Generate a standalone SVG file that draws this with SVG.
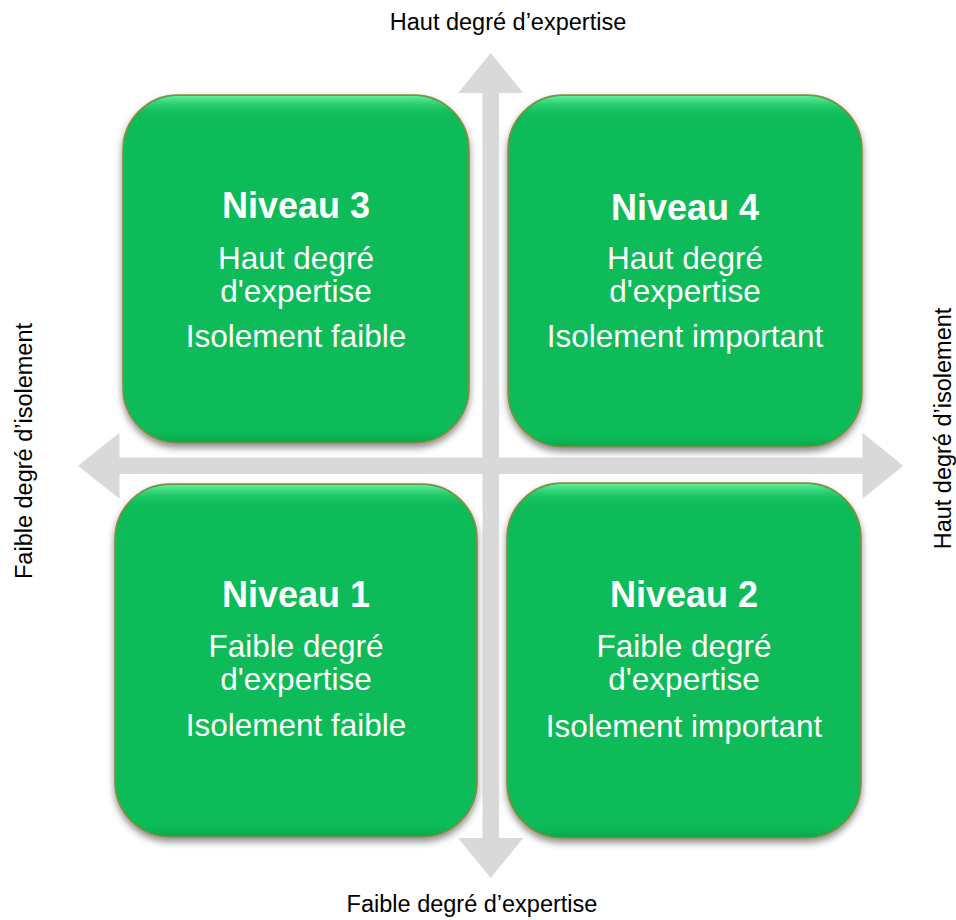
<svg xmlns="http://www.w3.org/2000/svg" width="956" height="920" viewBox="0 0 956 920">
<defs>
<filter id="sh" x="-10%" y="-10%" width="120%" height="125%">
<feDropShadow dx="0" dy="4" stdDeviation="3.5" flood-color="#000" flood-opacity="0.45"/>
</filter>
<linearGradient id="bevel" x1="0" y1="0" x2="0" y2="1">
<stop offset="0" stop-color="#6af5a4" stop-opacity="0.9"/>
<stop offset="0.03" stop-color="#3ddc80" stop-opacity="0.45"/>
<stop offset="0.07" stop-color="#07bb59" stop-opacity="0"/>
<stop offset="0.96" stop-color="#07bb59" stop-opacity="0"/>
<stop offset="1" stop-color="#04803c" stop-opacity="0.35"/>
</linearGradient>
<style>
.box{fill:#07bb59;stroke:#8c8a3e;stroke-width:1.6;filter:url(#sh)}
.bev{fill:url(#bevel);stroke:none}
.arrow{fill:#d9d9d9;stroke:none}
.t{font-family:"Liberation Sans",Arial,sans-serif;fill:#ffffff;text-anchor:middle}
.h{font-size:36px;font-weight:bold}
.b{font-size:31.5px}
.ax{font-family:"Liberation Sans",Arial,sans-serif;font-size:23.5px;fill:#000000;text-anchor:middle}
</style>
</defs>
<rect width="956" height="920" fill="#ffffff"/>
<g id="connectors">
<polygon class="arrow" points="490.7,53 523.2,93 499,93 499,838 523.2,838 490.7,878 458.2,838 482.5,838 482.5,93 458.2,93"/>
<polygon class="arrow" points="78,465.7 119.5,432.7 119.5,457.4 862.5,457.4 862.5,432.7 903.3,465.7 862.5,498.7 862.5,474 119.5,474 119.5,498.7"/>
</g>
<g id="niveau3">
<rect class="box" x="123" y="95" width="346" height="348" rx="55" ry="55"/>
<rect class="bev" x="124" y="96" width="344" height="346" rx="54" ry="54"/>
<text class="t h" x="296" y="218">Niveau 3</text>
<text class="t b" x="296" y="268.5">Haut degré</text>
<text class="t b" x="296" y="301.5">d'expertise</text>
<text class="t b" x="296" y="346.5">Isolement faible</text>
</g>
<g id="niveau4">
<rect class="box" x="508" y="95" width="354" height="352" rx="55" ry="55"/>
<rect class="bev" x="509" y="96" width="352" height="350" rx="54" ry="54"/>
<text class="t h" x="685" y="220">Niveau 4</text>
<text class="t b" x="685" y="268.5">Haut degré</text>
<text class="t b" x="685" y="301.5">d'expertise</text>
<text class="t b" x="685" y="346.5">Isolement important</text>
</g>
<g id="niveau1">
<rect class="box" x="115" y="484" width="362" height="353" rx="55" ry="55"/>
<rect class="bev" x="116" y="485" width="360" height="351" rx="54" ry="54"/>
<text class="t h" x="296" y="607">Niveau 1</text>
<text class="t b" x="296" y="657">Faible degré</text>
<text class="t b" x="296" y="689.5">d'expertise</text>
<text class="t b" x="296" y="735.5">Isolement faible</text>
</g>
<g id="niveau2">
<rect class="box" x="507" y="483" width="354" height="355" rx="55" ry="55"/>
<rect class="bev" x="508" y="484" width="352" height="353" rx="54" ry="54"/>
<text class="t h" x="684" y="607">Niveau 2</text>
<text class="t b" x="684" y="657">Faible degré</text>
<text class="t b" x="684" y="690">d'expertise</text>
<text class="t b" x="684" y="736.5">Isolement important</text>
</g>
<g id="labels">
<text class="ax" x="508" y="30">Haut degré d’expertise</text>
<text class="ax" x="472" y="912">Faible degré d’expertise</text>
<text class="ax" transform="translate(32,451) rotate(-90)">Faible degré d’isolement</text>
<text class="ax" transform="translate(951,428.5) rotate(-90)">Haut degré d’isolement</text>
</g>
</svg>
